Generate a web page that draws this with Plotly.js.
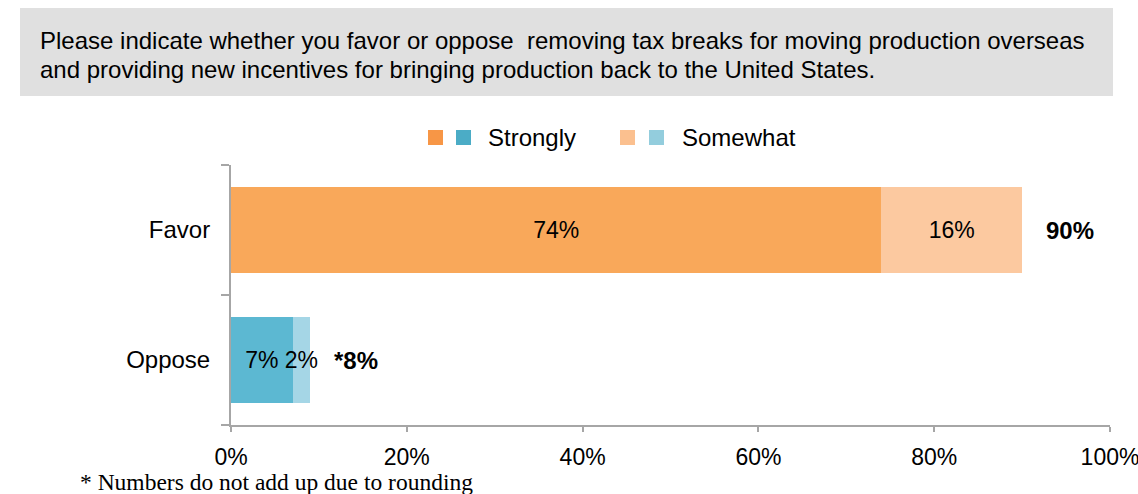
<!DOCTYPE html>
<html><head><meta charset="utf-8">
<script src="https://cdn.plot.ly/plotly-3.0.1.min.js"></script>
<style>html,body{margin:0;padding:0;background:#fff;}#chart{width:1138px;height:494px;}</style>
</head><body><div id="chart"></div>
<script>
const categories = ['Oppose', 'Favor'];
const strongly = [7, 74];
const somewhat = [2, 16];
const totalLabels = ['*8%', '90%'];
const xTicks = [0, 20, 40, 60, 80, 100];
const xTickLabels = ['0%', '20%', '40%', '60%', '80%', '100%'];
const titleLines = [
  'Please indicate whether you favor or oppose  removing tax breaks for moving production overseas',
  'and providing new incentives for bringing production back to the United States.'
];

const W = 1138, H = 494;
const M = {l: 231, r: 28, t: 165, b: 69};
const pw = W - M.l - M.r, ph = H - M.t - M.b;
const px = v => (v - M.l) / pw;       // pixel x -> paper x
const py = v => 1 - (v - M.t) / ph;   // pixel y -> paper y

const FONT = 'Liberation Sans, Arial, sans-serif';
const FS = 24;

const traces = [
  {type: 'bar', orientation: 'h', y: categories, x: strongly,
   marker: {color: ['#5CB8D2', '#F9A85A']},
   text: strongly.map(v => v + '%'), textposition: 'inside', insidetextanchor: 'middle',
   textangle: 0, constraintext: 'none', cliponaxis: false,
   textfont: {family: FONT, size: 23, color: '#000'}, hoverinfo: 'none', width: 0.667},
  {type: 'bar', orientation: 'h', y: categories, x: somewhat,
   marker: {color: ['#A5D6E6', '#FCC9A0']},
   text: somewhat.map(v => v + '%'), textposition: 'inside', insidetextanchor: 'middle',
   textangle: 0, constraintext: 'none', cliponaxis: false,
   textfont: {family: FONT, size: 23, color: '#000'}, hoverinfo: 'none', width: 0.667}
];

const annotations = categories.map((c, i) => ({
  x: strongly[i] + somewhat[i], y: c, xref: 'x', yref: 'y',
  text: '<b>' + totalLabels[i] + '</b>', showarrow: false,
  xanchor: 'left', xshift: 22, font: {family: FONT, size: FS, color: '#000'}
}));

titleLines.forEach((t, i) => annotations.push({
  xref: 'paper', yref: 'paper', x: px(38), y: py(41 + 28 * i), xanchor: 'left', yanchor: 'middle',
  align: 'left', showarrow: false, text: t,
  font: {family: FONT, size: FS, color: '#000'}
}));
annotations.push({
  xref: 'paper', yref: 'paper', x: px(486), y: py(138), xanchor: 'left', yanchor: 'middle',
  showarrow: false, text: 'Strongly', font: {family: FONT, size: FS, color: '#000'}
});
annotations.push({
  xref: 'paper', yref: 'paper', x: px(680), y: py(138), xanchor: 'left', yanchor: 'middle',
  showarrow: false, text: 'Somewhat', font: {family: FONT, size: FS, color: '#000'}
});
annotations.push({
  xref: 'paper', yref: 'paper', x: px(78), y: py(482), xanchor: 'left', yanchor: 'middle',
  showarrow: false, text: '* Numbers do not add up due to rounding',
  font: {family: 'Liberation Serif, Times New Roman, serif', size: 23.5, color: '#000'}
});

const sq = (x0, color) => ({type: 'rect', xref: 'paper', yref: 'paper',
  x0: px(x0), x1: px(x0 + 15), y0: py(145), y1: py(130),
  fillcolor: color, line: {width: 0}});

const shapes = [
  {type: 'rect', xref: 'paper', yref: 'paper', x0: px(20), x1: px(1113), y0: py(96), y1: py(8),
   fillcolor: '#E0E0E0', line: {width: 0}, layer: 'below'},
  sq(428, '#F79646'), sq(456, '#4BACC6'), sq(620, '#FBC08F'), sq(649, '#93CDDD')
];

const layout = {
  width: W, height: H, margin: M, barmode: 'stack', showlegend: false,
  paper_bgcolor: '#fff', plot_bgcolor: '#fff',
  xaxis: {range: [0, 100], tickvals: xTicks, ticktext: xTickLabels, showgrid: false,
    zeroline: false, showline: true, linecolor: '#A6A6A6', linewidth: 2,
    ticks: 'outside', ticklen: 5, tickcolor: '#A6A6A6', tickwidth: 2,
    ticklabeloverflow: 'allow', ticklabelstandoff: 5, automargin: false,
    tickfont: {family: FONT, size: 23, color: '#000'}, fixedrange: true},
  yaxis: {range: [-0.5, 1.5], showgrid: false, zeroline: false, showline: true,
    linecolor: '#A6A6A6', linewidth: 2, ticks: 'outside', tickson: 'boundaries',
    ticklen: 8, tickcolor: '#A6A6A6', tickwidth: 2, ticklabelstandoff: 14, automargin: false,
    tickfont: {family: FONT, size: FS, color: '#000'}, fixedrange: true},
  annotations: annotations, shapes: shapes,
  font: {family: FONT}
};

Plotly.newPlot('chart', traces, layout, {staticPlot: true, displayModeBar: false});
</script></body></html>
